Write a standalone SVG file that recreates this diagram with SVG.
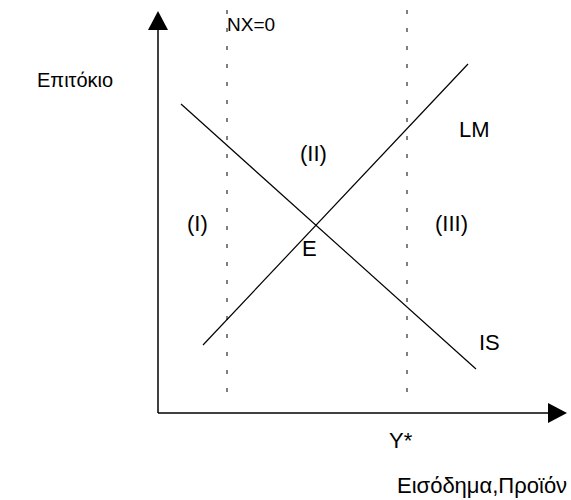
<svg xmlns="http://www.w3.org/2000/svg" width="571" height="500" viewBox="0 0 571 500">
<style>
text{font-family:"Liberation Sans",Arial,sans-serif;font-size:22px;fill:#000}
.ax{stroke:#000;stroke-width:1.5;fill:none}
.ln{stroke:#000;stroke-width:1.2;fill:none}
.dash{stroke:#000;stroke-width:1;stroke-dasharray:4,14;fill:none}
</style>
<defs>
<marker id="ah" markerWidth="20" markerHeight="20" refX="0" refY="10" orient="auto" markerUnits="userSpaceOnUse">
<path d="M0,0 L19,10 L0,20 Z" fill="#000"/>
</marker>
</defs>
<g id="connectors">
<line id="yaxis" class="ax" x1="158" y1="413" x2="158" y2="30" marker-end="url(#ah)"/>
<line id="xaxis" class="ax" x1="158" y1="413" x2="548" y2="413" marker-end="url(#ah)"/>
<line id="nx0" class="dash" x1="227" y1="10" x2="227" y2="405"/>
<line id="ystar" class="dash" x1="407" y1="10" x2="407" y2="405"/>
<line id="is" class="ln" x1="181" y1="104" x2="476" y2="369"/>
<line id="lm" class="ln" x1="203" y1="345" x2="468" y2="64"/>
</g>
<g id="labels">
<text x="227" y="31" style="font-size:19px">NX=0</text>
<text x="37" y="87" style="font-size:20px">Επιτόκιο</text>
<text x="459" y="137">LM</text>
<text x="300" y="161">(II)</text>
<text x="187" y="231">(I)</text>
<text x="435" y="231">(III)</text>
<text x="302" y="256">E</text>
<text x="479" y="350">IS</text>
<text x="389" y="448">Y*</text>
<text x="397" y="493">Εισόδημα,Προϊόν</text>
</g>
</svg>
